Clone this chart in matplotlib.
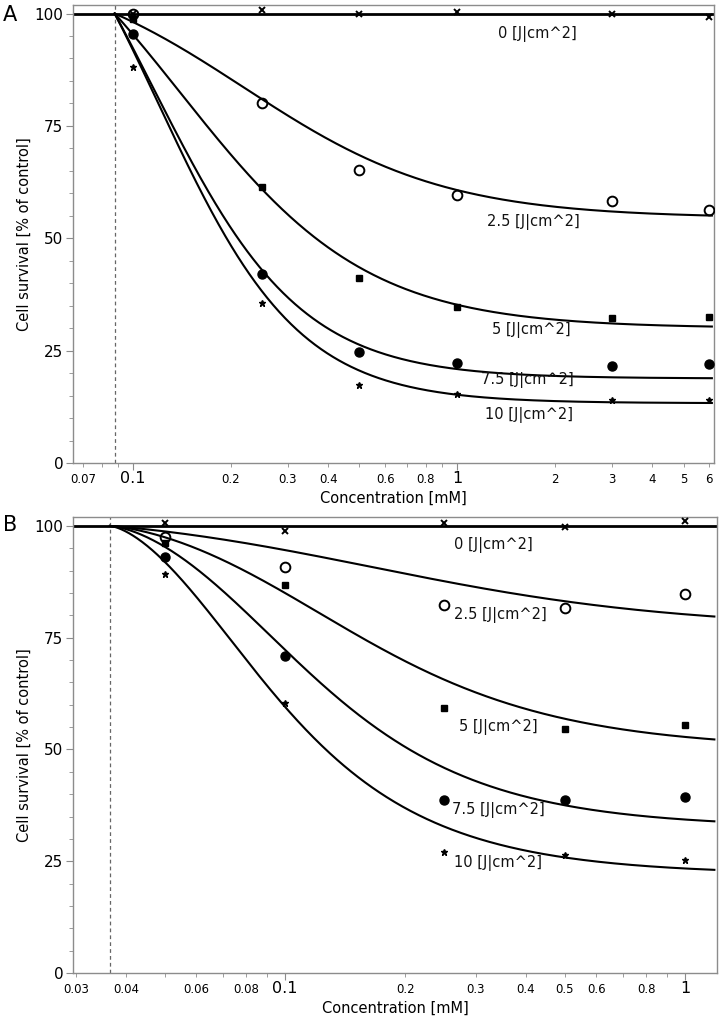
#import libraries
import numpy as np
import matplotlib
matplotlib.use("Agg")
from matplotlib import pyplot as plt
from matplotlib.ticker import FixedLocator, FixedFormatter, MultipleLocator

#light doses and marker styles
doses = ['0', '2.5', '5', '7.5', '10']
markers = ['x', 'o', 's', 'o', '*']
marker_face = ['black', 'none', 'black', 'black', 'black']
marker_size = [4.5, 7, 4.5, 6.5, 5]

#panel A: measured survival [% of control]
conc_a = [0.1, 0.25, 0.5, 1, 3, 6]
a_0 = [99.9, 100.8, 99.8, 100.3, 100.0, 99.3]
a_2_5 = [99.9, 80.1, 65.1, 59.7, 58.2, 56.3]
a_5 = [98.8, 61.4, 41.2, 34.8, 32.3, 32.5]
a_7_5 = [95.5, 42.0, 24.8, 22.3, 21.6, 22.0]
a_10 = [88.2, 35.5, 17.4, 15.3, 14.0, 14.0]

#panel A: fitted curve parameters (start, bottom, midpoint, slope)
start_a = 0.0878
bottom_a = [100, 54.5, 30.0, 18.8, 13.3]
half_a = [1, 0.22, 0.14, 0.115, 0.12]
slope_a = [1, 1.4, 1.5, 1.9, 2.0]

#panel B: measured survival [% of control]
conc_b = [0.05, 0.1, 0.25, 0.5, 1]
b_0 = [100.6, 98.9, 100.6, 99.7, 101.0]
b_2_5 = [97.6, 90.9, 82.3, 81.6, 84.8]
b_5 = [96.1, 86.8, 59.2, 54.5, 55.5]
b_7_5 = [93.0, 71.0, 38.7, 38.6, 39.3]
b_10 = [89.3, 60.3, 27.1, 26.4, 25.3]

#panel B: fitted curve parameters
start_b = 0.0365
bottom_b = [100, 77.0, 50.0, 32.5, 22.0]
half_b = [1, 0.186, 0.119, 0.0815, 0.0603]
slope_b = [1, 1.1, 1.35, 1.45, 1.45]

#label positions (x, y) for the dose names
lab_a = [(1.34, 95.5), (1.24, 53.6), (1.28, 29.6), (1.19, 18.5), (1.22, 10.7)]
lab_b = [(0.265, 95.8), (0.265, 80.1), (0.272, 55.0), (0.262, 36.5), (0.265, 24.6)]

GRAY = '#8c8c8c'


#logistic curve pinned to 100 % at the start concentration
def fit_anchored(x, x0, b, c, h):
    return b + (100 - b) * (1 + (x0 / c) ** h) / (1 + (x / c) ** h)


#hill curve shifted to start at the start concentration
def fit_shifted(x, x0, b, c, h):
    dx = np.clip(x - x0, 0, None)
    return b + (100 - b) / (1 + (dx / c) ** h)


def draw_panel(ax, conc, series, fit, x0, bottoms, halfs, slopes, labels_pos,
               xlim, ylim, major, minor, minor_labels):
    ax.set_xscale('log')
    ax.set_xlim(*xlim)
    ax.set_ylim(*ylim)

    #dashed start line
    ax.axvline(x0, color='#666666', lw=0.9, ls=(0, (3, 2.5)), zorder=1)

    xs = np.geomspace(x0, xlim[1] * 0.985, 600)
    for i in range(len(doses)):
        if i == 0:
            ax.axhline(100, color='black', lw=2.0, zorder=2)
        else:
            ax.plot(xs, fit(xs, x0, bottoms[i], halfs[i], slopes[i]),
                    color='black', lw=1.5, zorder=2)
        ax.plot(conc, series[i], ls='none', marker=markers[i],
                mfc=marker_face[i], mec='black', ms=marker_size[i],
                mew=1.4 if i in (0, 1) else 1.0, color='black', zorder=3)
        lx, ly = labels_pos[i]
        ax.text(lx, ly, doses[i] + ' [J|cm^2]', fontsize=10.5,
                ha='left', va='center', color='#111111')

    #ticks
    ax.yaxis.set_major_locator(FixedLocator([0, 25, 50, 75, 100]))
    ax.yaxis.set_minor_locator(MultipleLocator(5))
    ax.xaxis.set_major_locator(FixedLocator(major))
    ax.xaxis.set_major_formatter(FixedFormatter([str(m) for m in major]))
    ax.xaxis.set_minor_locator(FixedLocator(minor))
    ax.xaxis.set_minor_formatter(FixedFormatter(minor_labels))
    ax.tick_params(axis='both', which='both', direction='out', color=GRAY)
    ax.tick_params(axis='y', which='major', labelsize=11, length=5, pad=2)
    ax.tick_params(axis='y', which='minor', length=3)
    ax.tick_params(axis='x', which='major', labelsize=11.5, length=5, pad=1)
    ax.tick_params(axis='x', which='minor', labelsize=8.5, length=3, pad=4)
    for s in ax.spines.values():
        s.set_color(GRAY)
        s.set_linewidth(1.0)

    ax.set_ylabel('Cell survival [% of control]', fontsize=10.5, labelpad=2)
    ax.set_xlabel('Concentration [mM]', fontsize=10.5)


fig = plt.figure(figsize=(7.26, 10.21), dpi=100)

ax1 = fig.add_axes([73 / 726, 1 - 463 / 1021, 641 / 726, 458 / 1021])
draw_panel(ax1, conc_a, [a_0, a_2_5, a_5, a_7_5, a_10], fit_anchored, start_a,
           bottom_a, half_a, slope_a, lab_a,
           (0.0653, 6.21), (0, 101.9), [0.1, 1],
           [0.07, 0.08, 0.09, 0.2, 0.3, 0.4, 0.5, 0.6, 0.7, 0.8, 0.9, 2, 3, 4, 5, 6],
           ['0.07', '', '', '0.2', '0.3', '0.4', '', '0.6', '', '0.8', '', '2', '3', '4', '5', '6'])
ax1.xaxis.set_label_coords(0.5, -0.076)
ax1.xaxis.label.set_va('center')

ax2 = fig.add_axes([73 / 726, 1 - 973 / 1021, 644 / 726, 456 / 1021])
draw_panel(ax2, conc_b, [b_0, b_2_5, b_5, b_7_5, b_10], fit_shifted, start_b,
           bottom_b, half_b, slope_b, lab_b,
           (0.02951, 1.202), (0, 102.0), [0.1, 1],
           [0.03, 0.04, 0.05, 0.06, 0.07, 0.08, 0.09, 0.2, 0.3, 0.4, 0.5, 0.6, 0.7, 0.8, 0.9],
           ['0.03', '0.04', '', '0.06', '', '0.08', '', '0.2', '0.3', '0.4', '0.5', '0.6', '', '0.8', ''])
ax2.xaxis.set_label_coords(0.5, -0.077)
ax2.xaxis.label.set_va('center')

fig.text(3 / 726, 1 - 15 / 1021, 'A', fontsize=15, va='center', ha='left')
fig.text(3 / 726, 1 - 525 / 1021, 'B', fontsize=15, va='center', ha='left')

plt.savefig('out.png', dpi=100)
